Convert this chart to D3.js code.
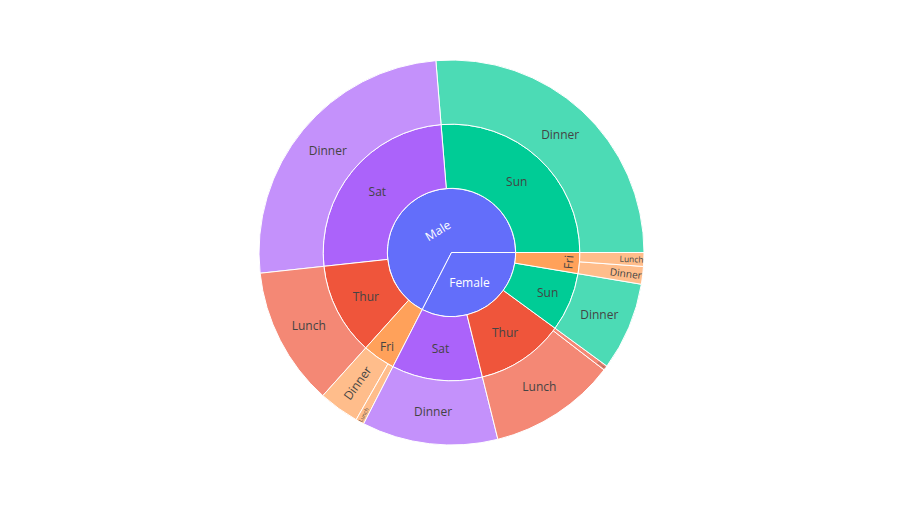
<!DOCTYPE html>
<html>
<head>
<meta charset="utf-8">
<script src="https://cdn.jsdelivr.net/npm/d3@7"></script>
<style>
  body { margin: 0; background: #fff; }
</style>
</head>
<body>
<svg id="chart" width="903" height="525"></svg>
<script>
// total_bill summed by sex / day / time (tips dataset)
const sexes = ["Male", "Female"];
const days = ["Sun", "Sat", "Thur", "Fri"];
const times = ["Dinner", "Lunch"];
const maleDinner = [1269.46, 1227.35, 0, 164.41];
const maleLunch = [0, 0, 561.44, 34.16];
const femaleDinner = [357.70, 551.05, 18.78, 71.55];
const femaleLunch = [0, 0, 516.11, 55.76];
const sexColors = ["#636efa", "#636efa"];
const dayColors = ["#00cc96", "#ab63fa", "#EF553B", "#FFA15A"];

const width = 903, height = 525;
const margin = { top: 60, right: 80, bottom: 80, left: 80 };
const cx = margin.left + (width - margin.left - margin.right) / 2;
const cy = margin.top + (height - margin.top - margin.bottom) / 2;
const R = Math.min(width - margin.left - margin.right, height - margin.top - margin.bottom) / 2;
const LEAF_OPACITY = 0.7;
const FONT = '"Open Sans", verdana, arial, sans-serif';

const bySex = { Male: [maleDinner, maleLunch], Female: [femaleDinner, femaleLunch] };
const tree = {
  name: "",
  children: sexes.map((s, si) => ({
    name: s,
    color: sexColors[si],
    children: days.map((d, di) => ({
      name: d,
      color: dayColors[di],
      children: times
        .map((t, ti) => ({ name: t, value: bySex[s][ti][di] }))
        .filter((c) => c.value > 0),
    })),
  })),
};

const root = d3.hierarchy(tree)
  .sum((d) => d.value || 0)
  .sort((a, b) => b.value - a.value);
d3.partition().size([2 * Math.PI, 4])(root);

// partition x runs counter-clockwise from 3 o'clock, d3.arc wants clockwise from 12
const angle = d3.scaleLinear().domain([0, 2 * Math.PI]).range([Math.PI / 2, -1.5 * Math.PI]);
const radius = d3.scaleLinear().domain([1, 4]).range([0, R]);

const arc = d3.arc()
  .startAngle((d) => angle(d.x1))
  .endAngle((d) => angle(d.x0))
  .innerRadius((d) => radius(d.y0))
  .outerRadius((d) => radius(d.y1));

const fillOf = (d) => (d.children ? d.data.color : d.parent.data.color);

const svg = d3.select("#chart");
const g = svg.append("g").attr("transform", `translate(${cx},${cy})`);
const nodes = root.descendants().filter((d) => d.depth > 0);

g.selectAll("path")
  .data(nodes)
  .join("path")
  .attr("d", arc)
  .attr("fill", fillOf)
  .attr("fill-opacity", (d) => (d.children ? 1 : LEAF_OPACITY))
  .attr("stroke", "#fff")
  .attr("stroke-width", 1);

// --- inside text placement, same idea as plotly's pie/sunburst "auto" orientation
const deg = (t) => (t * 180) / Math.PI;
const norm = (a) => ((((a + 90) % 180) + 180) % 180) - 90;

function maxHalfSize(a, half, r, ring) {
  const q = a + 1 / (2 * Math.tan(half));
  return r * Math.min(1 / (Math.sqrt(q * q + 0.5) + q), ring / (Math.sqrt(a * a + ring / 2) + a));
}

function placeText(d, bb) {
  const r0 = radius(d.y0), r1 = radius(d.y1);
  const ring = 1 - r0 / r1;
  const mid = (d.x0 + d.x1) / 2;
  const delta = ((d.x1 - d.x0 + Math.PI) % (2 * Math.PI)) - Math.PI; // shortest signed span
  const half = 0.5 * Math.min(delta, Math.PI);
  const rIns = Math.max(0, Math.min(1 / (1 + 1 / Math.sin(half)), ring / 2));
  const diam = Math.hypot(bb.width, bb.height);

  const cands = [];
  const hor = { scale: (rIns * r1 * 2) / diam, rc: 1 - rIns, rot: 0 };
  if (hor.scale >= 1) return { ...hor, scale: 1, r1, mid };
  cands.push(hor);

  const rp = Math.max(0, r1 - 6);
  let a = bb.height / bb.width;
  let s = maxHalfSize(a, half, rp, ring);
  cands.push({ scale: (s * 2) / bb.width, rc: Math.cos(s / rp) - (a * s) / rp, rot: norm(90 - deg(mid)) });

  a = bb.width / bb.height;
  s = maxHalfSize(a, half, rp, ring);
  cands.push({ scale: (s * 2) / bb.height, rc: Math.cos(s / rp) - (a * s) / rp, rot: norm(-deg(mid)) });

  let best = cands[0];
  cands.forEach((c) => { if (c.scale > best.scale) best = c; });
  return { ...best, scale: Math.min(1, best.scale), r1, mid };
}

function textColor(d) {
  const c = d3.rgb(fillOf(d));
  const op = d.children ? 1 : LEAF_OPACITY;
  const mix = (v) => v * op + 255 * (1 - op);
  const bright = (mix(c.r) * 299 + mix(c.g) * 587 + mix(c.b) * 114) / 1000;
  return bright < 128 ? "#fff" : "#444";
}

const labels = g.selectAll("text")
  .data(nodes)
  .join("text")
  .attr("text-anchor", "middle")
  .style("font-family", FONT)
  .style("font-size", "12px")
  .style("fill", textColor)
  .text((d) => d.data.name);

labels.each(function (d) {
  const bb = this.getBBox();
  const t = placeText(d, bb);
  const x = t.rc * t.r1 * Math.cos(t.mid);
  const y = -t.rc * t.r1 * Math.sin(t.mid);
  const bx = bb.x + bb.width / 2, by = bb.y + bb.height / 2;
  d3.select(this).attr(
    "transform",
    `translate(${x},${y}) rotate(${t.rot}) scale(${t.scale}) translate(${-bx},${-by})`
  );
});
</script>
</body>
</html>
